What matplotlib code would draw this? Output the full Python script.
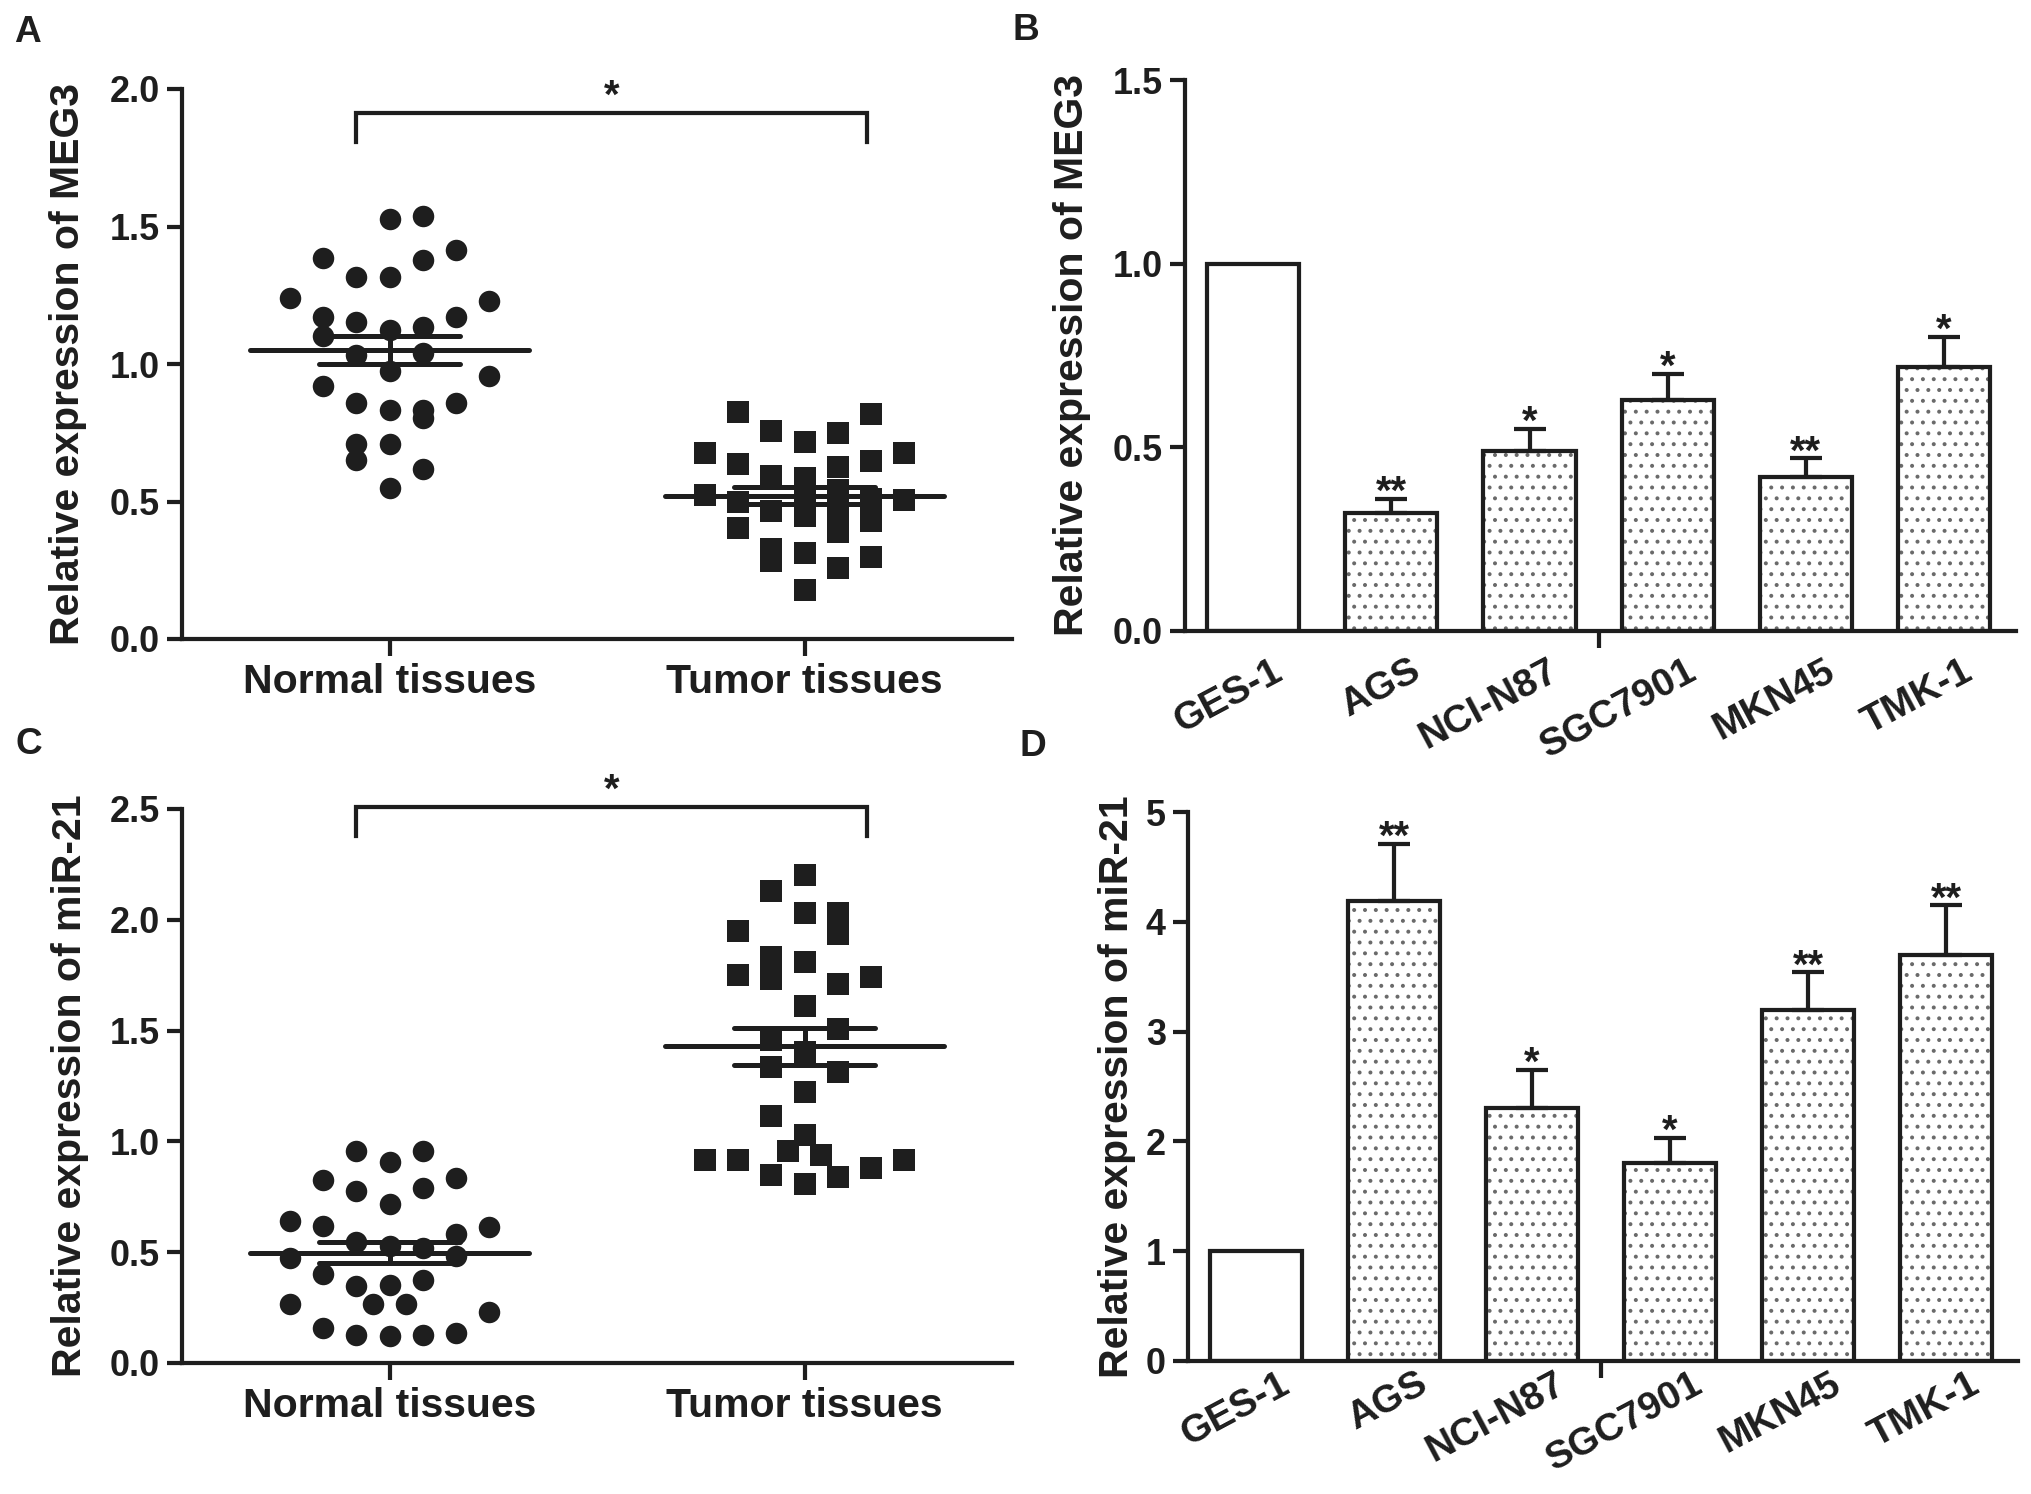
import matplotlib
matplotlib.use('Agg')
import matplotlib.pyplot as plt
import numpy as np
from matplotlib.ticker import FormatStrFormatter
from matplotlib.transforms import ScaledTranslation

DPI = 130
plt.rcParams['font.family'] = ['Liberation Sans', 'DejaVu Sans']
plt.rcParams['font.weight'] = 'bold'
plt.rcParams['hatch.linewidth'] = 1.0

# ---------------- data ----------------
groups = ['Normal tissues', 'Tumor tissues']

# Panel A: MEG3 in tissues (values and beeswarm column index)
meg3_normal = [1.240,
               1.387, 1.170, 1.101, 0.919,
               1.318, 1.151, 1.034, 0.859, 0.708, 0.650,
               1.529, 1.318, 1.123, 0.976, 0.834, 0.708, 0.550,
               1.537, 1.377, 1.134, 1.039, 0.834, 0.805, 0.618,
               1.415, 1.170, 0.859,
               1.228, 0.956]
meg3_normal_col = [-3,
                   -2, -2, -2, -2,
                   -1, -1, -1, -1, -1, -1,
                   0, 0, 0, 0, 0, 0, 0,
                   1, 1, 1, 1, 1, 1, 1,
                   2, 2, 2,
                   3, 3]
meg3_tumor = [0.678, 0.524,
              0.827, 0.636, 0.499, 0.405,
              0.756, 0.593, 0.467, 0.326, 0.285,
              0.717, 0.584, 0.505, 0.448, 0.314, 0.178,
              0.748, 0.627, 0.542, 0.463, 0.390, 0.257,
              0.818, 0.647, 0.508, 0.430, 0.297,
              0.678, 0.505]
meg3_tumor_col = [-3, -3,
                  -2, -2, -2, -2,
                  -1, -1, -1, -1, -1,
                  0, 0, 0, 0, 0, 0,
                  1, 1, 1, 1, 1, 1,
                  2, 2, 2, 2, 2,
                  3, 3]

# Panel C: miR-21 in tissues
mir21_normal = [0.956, 0.956, 0.906, 0.828, 0.837, 0.777, 0.788, 0.716,
                0.642, 0.620, 0.615, 0.582, 0.548, 0.526, 0.519, 0.474,
                0.481, 0.403, 0.374, 0.347, 0.351, 0.264, 0.264, 0.264,
                0.228, 0.157, 0.128, 0.123, 0.128, 0.134]
mir21_normal_col = [-1, 1, 0, -2, 2, -1, 1, 0,
                    -3, -2, 3, 2, -1, 0, 1, -3,
                    2, -2, 1, -1, 0, -3, -0.5, 0.5,
                    3, -2, -1, 0, 1, 2]
mir21_tumor = [2.202, 2.131, 2.032, 2.032, 1.936, 1.951, 1.831, 1.733,
               1.811, 1.751, 1.743, 1.710, 1.612, 1.506, 1.458, 1.405,
               1.334, 1.315, 1.224, 1.115, 1.029, 0.957, 0.939, 0.916,
               0.916, 0.916, 0.879, 0.848, 0.841, 0.808]
mir21_tumor_col = [0, -1, 0, 1, 1, -2, -1, -1,
                   0, -2, 2, 1, 0, 1, -1, 0,
                   -1, 1, 0, -1, 0, -0.5, 0.5, -3,
                   -2, 3, 2, -1, 1, 0]

# Panels B and D: cell lines
cell_lines = ['GES-1', 'AGS', 'NCI-N87', 'SGC7901', 'MKN45', 'TMK-1']
meg3_cells = [1.0, 0.32, 0.49, 0.63, 0.42, 0.72]
meg3_cells_err = [0.0, 0.04, 0.06, 0.07, 0.05, 0.08]
meg3_cells_sig = ['', '**', '*', '*', '**', '*']
mir21_cells = [1.0, 4.19, 2.30, 1.80, 3.20, 3.70]
mir21_cells_err = [0.0, 0.52, 0.35, 0.23, 0.34, 0.45]
mir21_cells_sig = ['', '**', '*', '*', '**', '**']

# ---------------- style ----------------
INK = '#1e1e1e'
W, H = 2031, 1494
fig = plt.figure(figsize=(W / DPI, H / DPI), dpi=DPI)
fig.patch.set_facecolor('white')


def px2pt(px):
    return px * 72.0 / DPI


LW = px2pt(4.2)
YTICK_FS = px2pt(36)
XTICK_FS = px2pt(41)
YLAB_FS = px2pt(41)
BARTICK_FS = px2pt(39)
STAR_FS = px2pt(40)
PANEL_FS = px2pt(37)


def axes_px(l, t, r, b):
    return fig.add_axes([l / W, 1 - b / H, (r - l) / W, (b - t) / H])


def style_axes(ax):
    for s in ('top', 'right'):
        ax.spines[s].set_visible(False)
    for s in ('left', 'bottom'):
        ax.spines[s].set_linewidth(LW)
        ax.spines[s].set_color(INK)
        ax.spines[s].set_capstyle('projecting')
    ax.tick_params(axis='y', direction='out', length=px2pt(15), width=LW,
                   color=INK, labelsize=YTICK_FS, pad=px2pt(7), labelcolor=INK)
    ax.set_facecolor('none')


def scatter_panel(ax, series, cols, markers, msizes, ymax, yticks, fmt,
                  ylabel, ylab_x, br_y, br_drop):
    style_axes(ax)
    step = 0.08
    for i, (vals, cl, mk, ms) in enumerate(zip(series, cols, markers, msizes)):
        vals = np.asarray(vals)
        xs = i + step * np.asarray(cl, dtype=float)
        ax.plot(xs, vals, linestyle='none', marker=mk, ms=ms, color=INK,
                mec='none', clip_on=False, zorder=2)
        mean = vals.mean()
        sem = vals.std(ddof=1) / np.sqrt(len(vals))
        ax.hlines(mean, i - 0.336, i + 0.336, color=INK, lw=px2pt(5), zorder=3,
                  capstyle='round')
        ax.hlines([mean - sem, mean + sem], i - 0.17, i + 0.17, color=INK,
                  lw=px2pt(5), zorder=3, capstyle='round')
        ax.vlines(i, mean - sem, mean + sem, color=INK, lw=px2pt(5), zorder=3)
    ax.set_xlim(-0.5, 1.5)
    ax.set_ylim(0, ymax)
    ax.set_yticks(yticks)
    ax.yaxis.set_major_formatter(FormatStrFormatter(fmt))
    ax.set_xticks([0, 1])
    ax.set_xticklabels(groups, fontsize=XTICK_FS, fontweight='bold', color=INK)
    ax.tick_params(axis='x', direction='out', length=px2pt(17), width=LW,
                   color=INK, pad=px2pt(7))
    ax.set_ylabel(ylabel, fontsize=YLAB_FS, fontweight='bold', color=INK,
                  va='center')
    ax.yaxis.set_label_coords(ylab_x, 0.5)
    # significance bracket
    x0, x1 = -0.08, 1.15
    ax.plot([x0, x0, x1, x1], [br_y - br_drop, br_y, br_y, br_y - br_drop],
            color=INK, lw=LW, clip_on=False, solid_joinstyle='miter')
    ax.annotate('*', xy=((x0 + x1) / 2, br_y), xytext=(0, px2pt(5)),
                textcoords='offset points', ha='center', va='baseline',
                fontsize=STAR_FS, fontweight='bold', color=INK,
                annotation_clip=False)


def bar_panel(ax, vals, errs, sigs, ymax, yticks, fmt, ylabel, ylab_x,
              lab_pad_px, lab_shift_px):
    style_axes(ax)
    x = np.arange(len(cell_lines))
    width = 0.667
    fills = ax.bar(x, vals, width=width, color='white', edgecolor='#6a6a6a',
                   linewidth=0, zorder=1)
    for i, p in enumerate(fills):
        if i > 0:
            p.set_hatch('..')
    ax.bar(x, vals, width=width, fill=False, edgecolor=INK, linewidth=LW,
           zorder=2)
    ax.errorbar(x[1:], vals[1:], yerr=[np.zeros(len(x) - 1), errs[1:]],
                fmt='none', ecolor=INK, elinewidth=LW, capsize=px2pt(16),
                capthick=LW, zorder=3)
    for i in range(1, len(x)):
        ax.annotate(sigs[i], xy=(x[i], vals[i] + errs[i]),
                    xytext=(0, -px2pt(5)), textcoords='offset points',
                    ha='center', va='baseline', fontsize=STAR_FS,
                    fontweight='bold', color=INK)
    ax.set_xlim(-0.493, 5.52)
    ax.set_ylim(0, ymax)
    ax.set_yticks(yticks)
    ax.yaxis.set_major_formatter(FormatStrFormatter(fmt))
    ax.set_xticks(x)
    ax.set_xticklabels(cell_lines, fontsize=BARTICK_FS, fontweight='bold',
                       color=INK, rotation=28, ha='right', va='top',
                       rotation_mode='anchor')
    ax.tick_params(axis='x', which='major', length=0, pad=px2pt(lab_pad_px))
    ax.set_xticks([2.5], minor=True)
    ax.tick_params(axis='x', which='minor', direction='out', length=px2pt(17),
                   width=LW, color=INK)
    shift = ScaledTranslation(px2pt(lab_shift_px) / 72.0, 0, fig.dpi_scale_trans)
    for lbl in ax.get_xticklabels():
        lbl.set_transform(lbl.get_transform() + shift)
    ax.set_ylabel(ylabel, fontsize=YLAB_FS, fontweight='bold', color=INK,
                  va='center')
    ax.yaxis.set_label_coords(ylab_x, 0.5)


axA = axes_px(182, 89, 1012, 639)
scatter_panel(axA, [meg3_normal, meg3_tumor], [meg3_normal_col, meg3_tumor_col],
              ['o', 's'], [px2pt(21.5), px2pt(22)], 2.0,
              [0, 0.5, 1.0, 1.5, 2.0], '%.1f', 'Relative expression of MEG3',
              -0.137, 1.913, 0.106)

axB = axes_px(1185, 80, 2016, 631)
bar_panel(axB, np.array(meg3_cells), np.array(meg3_cells_err), meg3_cells_sig,
          1.5, [0, 0.5, 1.0, 1.5], '%.1f', 'Relative expression of MEG3', -0.136,
          22, 18)

axC = axes_px(182, 809, 1012, 1363)
scatter_panel(axC, [mir21_normal, mir21_tumor], [mir21_normal_col, mir21_tumor_col],
              ['o', 's'], [px2pt(21.5), px2pt(22)], 2.5,
              [0, 0.5, 1.0, 1.5, 2.0, 2.5], '%.1f', 'Relative expression of miR-21',
              -0.135, 2.509, 0.131)

axD = axes_px(1188, 812, 2018, 1361)
bar_panel(axD, np.array(mir21_cells), np.array(mir21_cells_err), mir21_cells_sig,
          5, [0, 1, 2, 3, 4, 5], '%d', 'Relative expression of miR-21', -0.086,
          5, 22)

for letter, (px, py) in zip('ABCD', [(27, 32), (1026, 30), (29, 745), (1033, 747)]):
    fig.text(px / W, 1 - py / H, letter, fontsize=PANEL_FS, fontweight='bold',
             ha='center', va='center', color=INK)

fig.savefig('out.png', dpi=DPI, facecolor='white')
